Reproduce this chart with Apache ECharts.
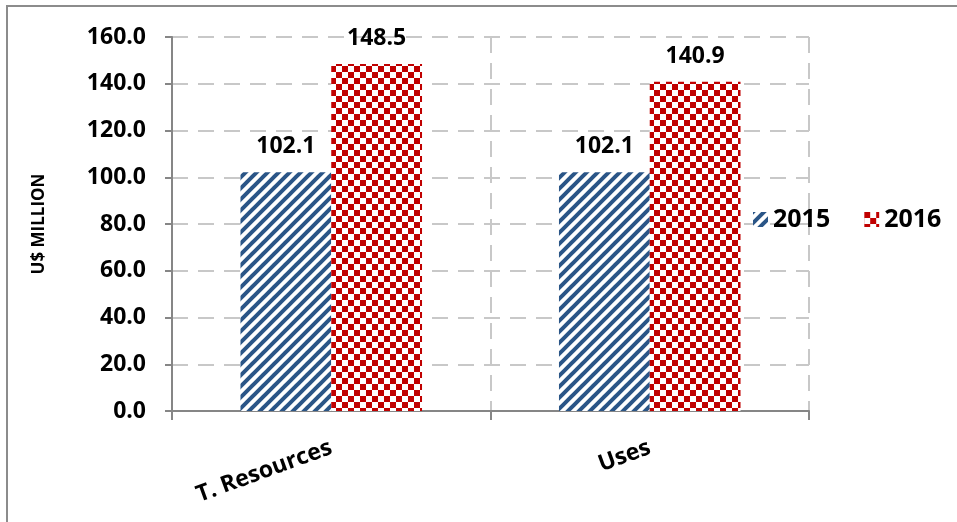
<!DOCTYPE html>
<html>
<head>
<meta charset="utf-8">
<style>
  html, body { margin: 0; padding: 0; background: #ffffff; }
  #chart { width: 957px; height: 522px; }
</style>
<script src="https://cdn.jsdelivr.net/npm/echarts@6/dist/echarts.min.js"></script>
</head>
<body>
<div id="chart"></div>
<script>
// Categories, series and axis settings
const categories = ['T. Resources', 'Uses'];
const seriesNames = ['2015', '2016'];
const values2015 = [102.1, 102.1];
const values2016 = [148.5, 140.9];
const yTicks = { min: 0, max: 160, interval: 20 };

const FONT = '"Open Sans", Lato, sans-serif';

// Diagonal hatch tile (blue stripes rising to the right)
function stripePattern(color) {
  const s = 11;
  const c = document.createElement('canvas');
  c.width = s; c.height = s;
  const g = c.getContext('2d');
  g.fillStyle = '#ffffff';
  g.fillRect(0, 0, s, s);
  g.strokeStyle = color;
  g.lineWidth = 4;
  g.lineCap = 'square';
  for (const off of [-s, 0, s]) {
    g.beginPath();
    g.moveTo(off - 1, s + 1);
    g.lineTo(off + s + 1, -1);
    g.stroke();
  }
  return c;
}

// Checkerboard tile (red / white squares)
function checkerPattern(color) {
  const cell = 6;
  const c = document.createElement('canvas');
  c.width = cell * 2; c.height = cell * 2;
  const g = c.getContext('2d');
  g.fillStyle = '#ffffff';
  g.fillRect(0, 0, cell * 2, cell * 2);
  g.fillStyle = color;
  g.fillRect(0, 0, cell, cell);
  g.fillRect(cell, cell, cell, cell);
  return c;
}

const blueHatch = { image: stripePattern('#2A5587'), repeat: 'repeat' };
const redChecker = { image: checkerPattern('#C00000'), repeat: 'repeat' };

const labelStyle = {
  show: true,
  position: 'top',
  distance: 14,
  fontFamily: FONT,
  fontWeight: 'bold',
  fontSize: 23,
  color: '#000000',
  formatter: p => p.value.toFixed(1)
};

const chart = echarts.init(document.getElementById('chart'), null, { renderer: 'canvas' });

chart.setOption({
  backgroundColor: '#ffffff',
  animation: false,
  graphic: [{
    type: 'rect',
    shape: { x: 7, y: 6, width: 1000, height: 600 },
    style: { fill: 'none', stroke: '#8C8C8C', lineWidth: 2 },
    silent: true
  }],
  grid: { left: 172, right: 148, top: 37, bottom: 111, containLabel: false },
  legend: {
    data: seriesNames,
    left: 748,
    top: 202,
    itemWidth: 15,
    itemHeight: 15,
    itemGap: 34,
    icon: 'rect',
    textStyle: { fontFamily: FONT, fontWeight: 'bold', fontSize: 25, color: '#000000' }
  },
  xAxis: {
    type: 'category',
    data: categories,
    axisLine: { show: true, lineStyle: { color: '#868686', width: 2 } },
    axisTick: { show: true, length: 9, lineStyle: { color: '#868686', width: 2 } },
    splitLine: { show: true, lineStyle: { color: '#C8C8C8', width: 2, type: [16, 10] } },
    axisLabel: {
      rotate: 20,
      margin: 36,
      fontFamily: FONT,
      fontWeight: 'bold',
      fontSize: 23,
      color: '#000000'
    }
  },
  yAxis: {
    type: 'value',
    min: yTicks.min,
    max: yTicks.max,
    interval: yTicks.interval,
    name: 'U$ MILLION',
    nameLocation: 'middle',
    nameGap: 124,
    nameRotate: 90,
    nameTextStyle: { fontFamily: FONT, fontWeight: 'bold', fontSize: 17, color: '#000000' },
    axisLine: { show: true, lineStyle: { color: '#868686', width: 2 } },
    axisTick: { show: true, length: 7, lineStyle: { color: '#868686', width: 2 } },
    splitLine: { show: true, lineStyle: { color: '#C8C8C8', width: 2, type: [16, 10] } },
    axisLabel: {
      margin: 26,
      fontFamily: FONT,
      fontWeight: 'bold',
      fontSize: 23,
      color: '#000000',
      formatter: v => v.toFixed(1)
    }
  },
  series: [
    {
      name: seriesNames[0],
      type: 'bar',
      data: values2015,
      barGap: '0%',
      barCategoryGap: '43%',
      itemStyle: { color: blueHatch },
      label: labelStyle
    },
    {
      name: seriesNames[1],
      type: 'bar',
      data: values2016,
      barGap: '0%',
      barCategoryGap: '43%',
      itemStyle: { color: redChecker },
      label: labelStyle
    }
  ]
});
</script>
</body>
</html>
